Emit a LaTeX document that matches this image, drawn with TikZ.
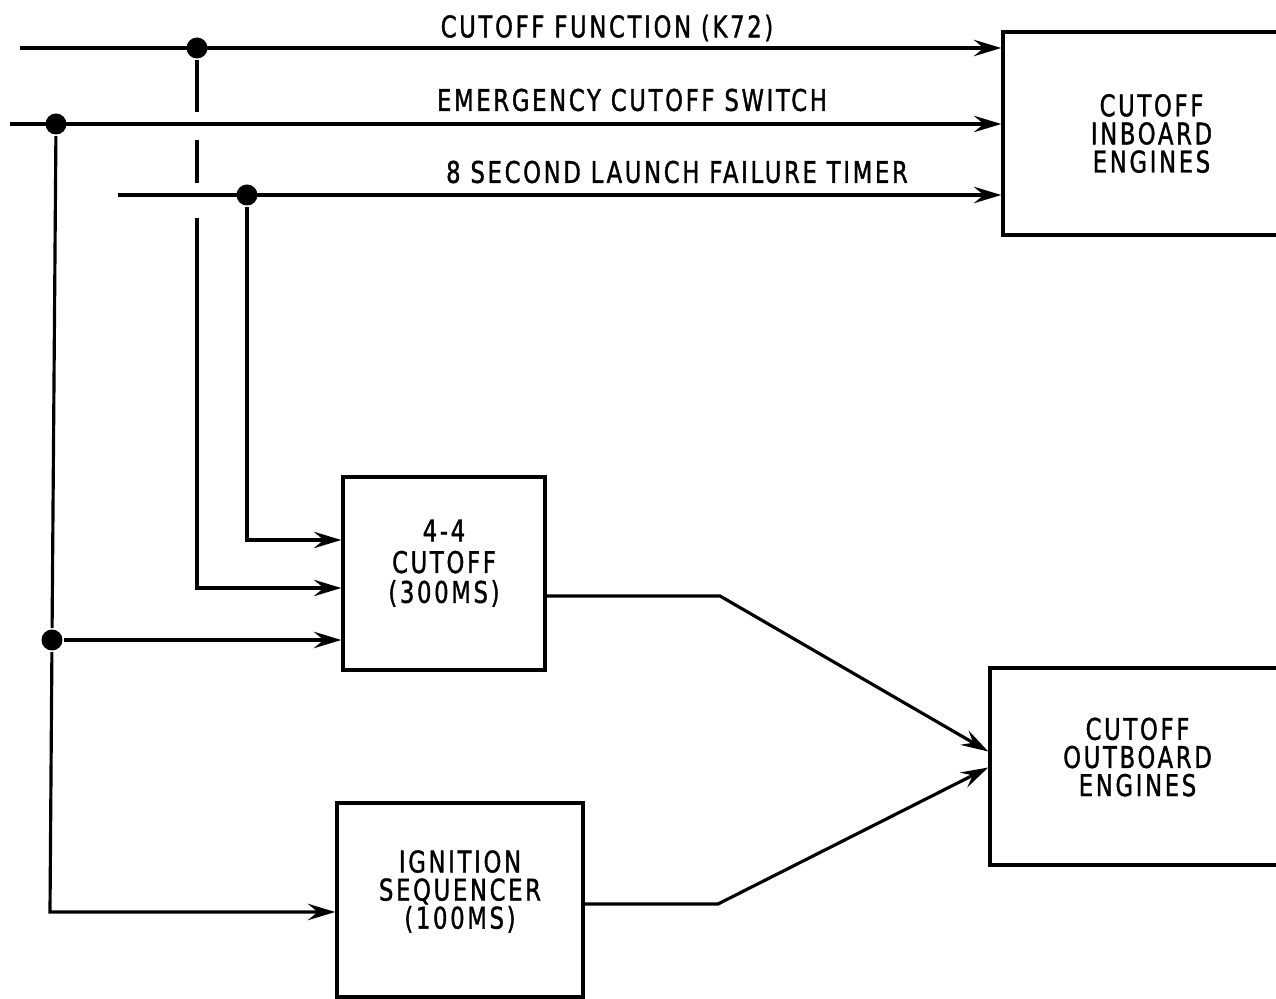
\documentclass[tikz,border=0pt]{standalone}
\usepackage{fontspec}
\newfontfamily\lettering[FakeStretch=0.76,LetterSpace=9,FakeBold=1.2]{DejaVu Sans}
\usetikzlibrary{arrows.meta}

\begin{document}
\begin{tikzpicture}[x=0.02cm, y=-0.02cm, line width=1.8pt,
    >={Stealth[length=5.5mm,width=3.3mm,inset=2mm]},
    box/.style={draw, line width=2pt, inner sep=0pt, align=center,
        font=\lettering\fontsize{17}{16}\selectfont},
    lbl/.style={font=\lettering\fontsize{17}{17}\selectfont},
    dot/.style={circle, fill, inner sep=0pt, minimum size=0.42cm}]

    \useasboundingbox (0,0) rectangle (1276,999);

    % blocks
    \node[box, minimum width=5.94cm, minimum height=4.06cm] (inboard) at (1151.5,133.5)
        {CUTOFF\\INBOARD\\ENGINES};
    \node[box, minimum width=5.9cm, minimum height=3.94cm] (outboard) at (1137.5,766.5)
        {CUTOFF\\OUTBOARD\\ENGINES\\[-5pt]};
    \node[box, minimum width=4.04cm, minimum height=3.86cm] (cut44) at (444,573.5)
        {4-4\\[2pt]CUTOFF\\[1pt](300MS)\\[-2pt]};
    \node[box, minimum width=4.92cm, minimum height=3.88cm] (ign) at (460,900)
        {IGNITION\\SEQUENCER\\(100MS)\\[-4pt]};

    % signal names
    \node[lbl] (k72) at (607,28) {CUTOFF FUNCTION (K72)};
    \node[lbl] (emer) at (632,100) {EMERGENCY CUTOFF SWITCH};
    \node[lbl] (timer) at (677,172) {8 SECOND LAUNCH FAILURE TIMER};

    % junctions and bends
    \node[dot] (kdot) at (197,48) {};
    \node[dot] (edot) at (56,124) {};
    \node[dot] (tdot) at (247,195) {};
    \node[dot] (odot) at (52,640) {};
    \coordinate (kstart) at (20,48);
    \coordinate (estart) at (10,124);
    \coordinate (tstart) at (118,195);
    \coordinate (kgapa) at (197,112);
    \coordinate (kgapb) at (197,140);
    \coordinate (kgapc) at (197,183);
    \coordinate (kgapd) at (197,218);
    \coordinate (kturn) at (197,588);
    \coordinate (tturn) at (247,540);
    \coordinate (eturn) at (50,912);
    \coordinate (abend) at (720,596);
    \coordinate (bbend) at (718,904);

    % input lines
    \draw[->] (kstart) -- (inboard.west |- kstart);
    \draw[->] (estart) -- (inboard.west |- estart);
    \draw[->] (tstart) -- (inboard.west |- tstart);

    % branches down to the lower blocks
    \draw (kdot) -- (kgapa);
    \draw (kgapb) -- (kgapc);
    \draw[->] (kgapd) -- (kturn) -- (cut44.west |- kturn);
    \draw[->] (tdot) -- (tturn) -- (cut44.west |- tturn);
    \draw (edot) -- (odot);
    \draw[->] (odot) -- (cut44.west |- odot);
    \draw[->] (odot) -- (eturn) -- (ign.west |- eturn);

    % outputs
    \draw[->] (cut44.east |- abend) -- (abend) -- ([yshift=0.3cm]outboard.west);
    \draw[->] (ign.east |- bbend) -- (bbend) -- ([yshift=-0.02cm]outboard.west);
\end{tikzpicture}
\end{document}
